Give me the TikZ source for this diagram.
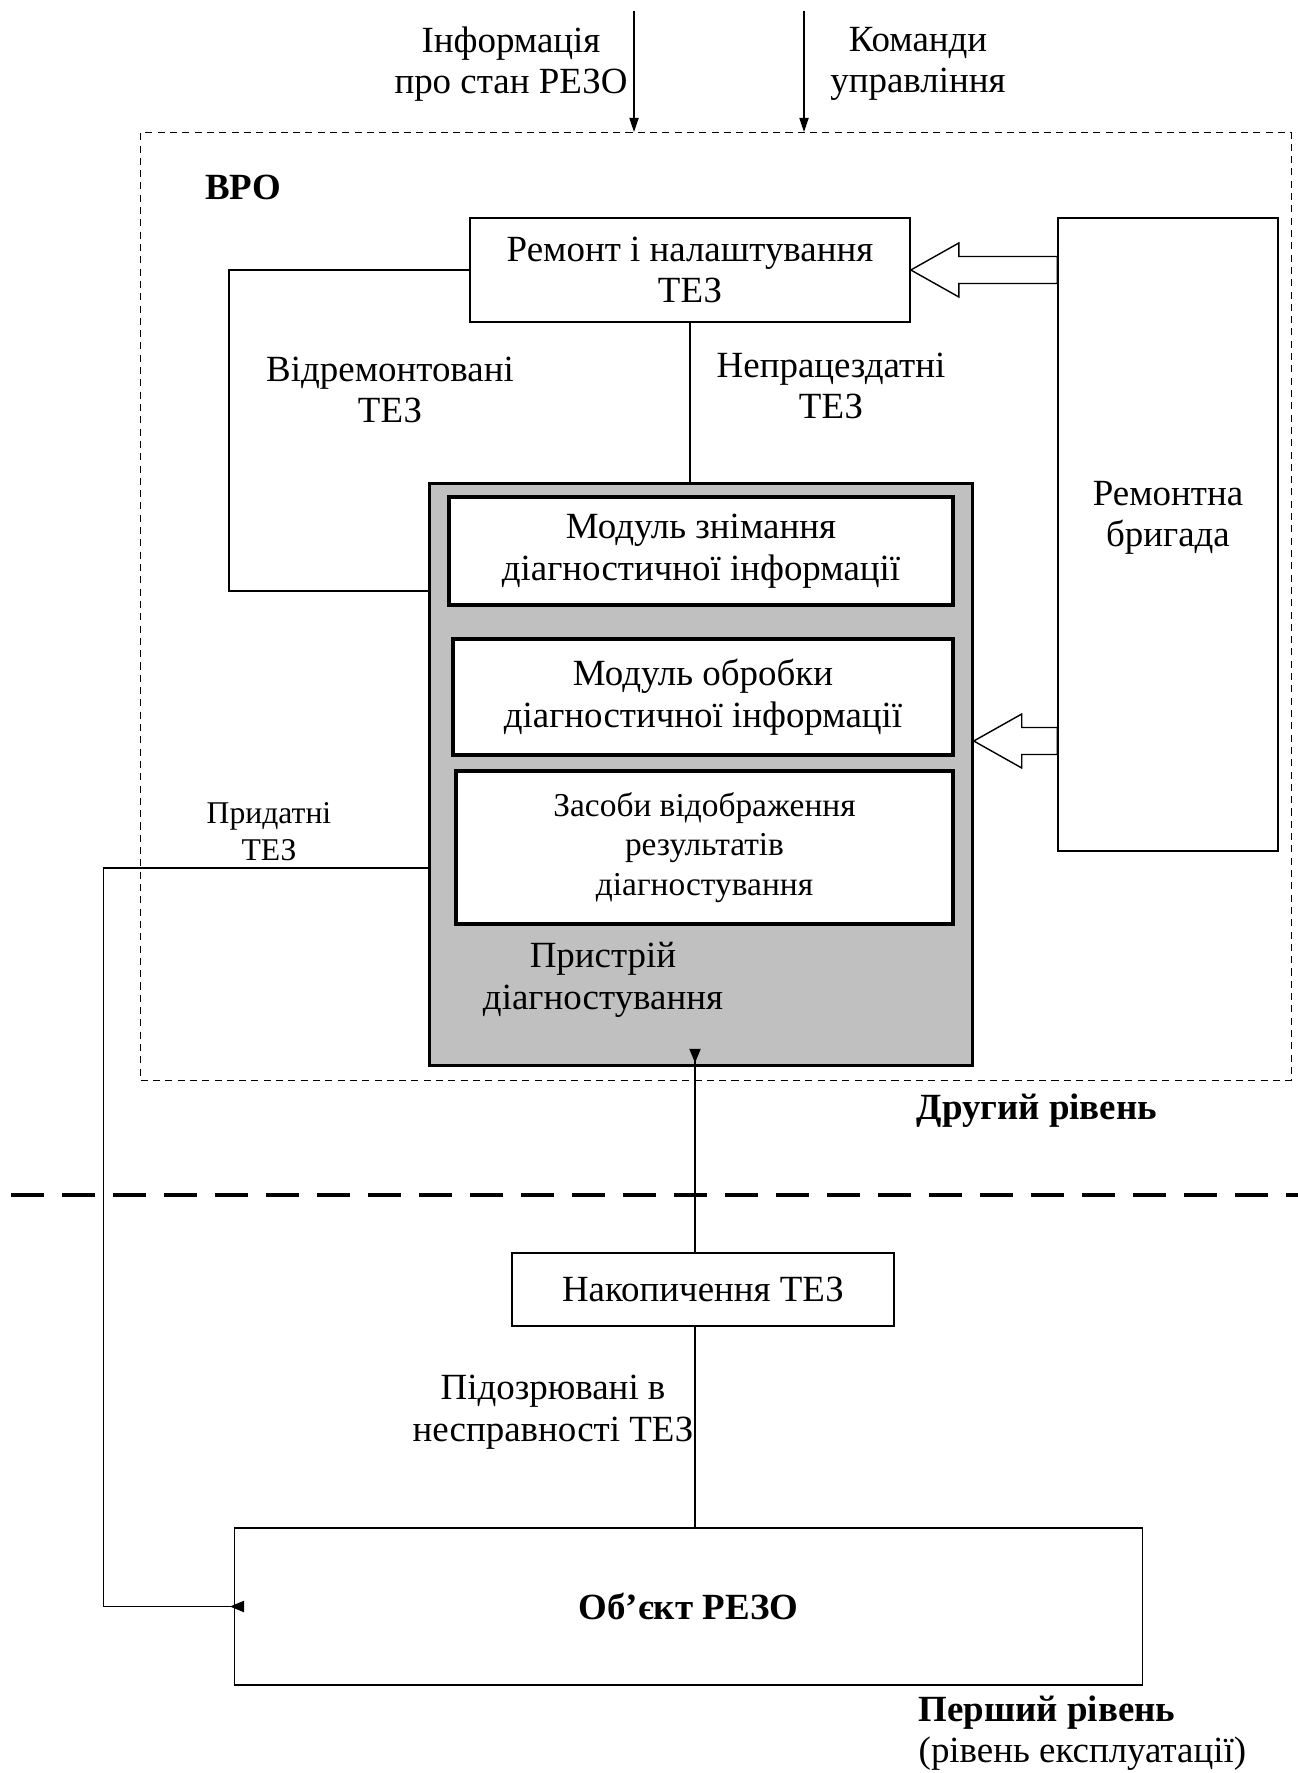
\documentclass[tikz,border=0pt]{standalone}
\usepackage{fontspec}
\setmainfont{Liberation Serif}
\usepackage{tikz}
\usetikzlibrary{positioning,arrows.meta,calc}
\definecolor{devgray}{RGB}{192,192,192}

\begin{document}
\begin{tikzpicture}[x=0.01cm, y=-0.01cm,
    every node/.style={font=\fontsize{10.5}{11.8}\selectfont},
    box/.style={draw, thin, inner sep=0pt, align=center},
    module/.style={draw, line width=1.1pt, fill=white, inner sep=0pt, align=center},
    device/.style={draw, line width=0.9pt, fill=devgray, inner sep=0pt},
    vro/.style={draw, thin, dash pattern=on 2pt off 1.5pt, inner sep=0pt},
    lbl/.style={align=center, inner sep=0pt},
    head/.style={font=\fontsize{10.5}{11.8}\selectfont\bfseries, inner sep=0pt},
    smalltext/.style={font=\fontsize{9.5}{11.2}\selectfont},
    feed/.style={-{Triangle[length=4pt,width=2.6pt]}},
    revtip/.style={-{Triangle[reversed,length=4pt,width=3.2pt]}},
    hollow/.style={thin, line join=miter},
    level/.style={line width=1pt, dash pattern=on 9.5pt off 5pt}]

    \useasboundingbox (0,0) rectangle (1298,1773);

    % second level frame
    \node[vro, minimum width=11.5cm, minimum height=9.47cm] (vro) at (716,606.5) {};
    \node[head] (vroname) at (243,187) {ВРО};

    % incoming information and commands
    \coordinate (in1) at (634,11);
    \coordinate (in2) at (804,11);
    \draw[feed] (in1) -- (in1 |- vro.north);
    \draw[feed] (in2) -- (in2 |- vro.north);
    \node[lbl] (infotxt) at (511,64) {Інформація\\про стан РЕЗО};
    \node[lbl] (cmdtxt) at (918,64) {Команди\\управління};

    % repair and repair team
    \node[box, minimum width=4.4cm, minimum height=1.04cm] (rem) at (690,270) {Ремонт і налаштування\\ТЕЗ};
    \node[box, minimum width=2.2cm, minimum height=6.33cm] (brig) at (1168,534.5) {Ремонтна\\бригада\\\mbox{}};

    % diagnostic device
    \node[device, minimum width=5.42cm, minimum height=5.81cm] (dev) at (701,774.5) {};
    \node[module, minimum width=5.04cm, minimum height=1.08cm] (m1) at (701,551) {Модуль знімання\\діагностичної інформації};
    \node[module, minimum width=5.0cm, minimum height=1.16cm] (m2) at (703,697) {Модуль обробки\\діагностичної інформації};
    \node[module, smalltext, minimum width=4.97cm, minimum height=1.53cm] (m3) at (704.5,847.5) {Засоби відображення\\результатів\\діагностування};
    \node[lbl] (devname) at (603,980) {Пристрій\\діагностування};

    % flows of boards
    \node[lbl] (repaired) at (390,390) {Відремонтовані\\ТЕЗ};
    \node[lbl] (faulty) at (831,386) {Непрацездатні\\ТЕЗ};
    \node[lbl, font=\fontsize{9}{10.5}\selectfont] (fit) at (269,832) {Придатні\\ТЕЗ};
    \draw (rem.west) -- ++(-240,0) |- ($(dev.west)+(0,-183.5)$);
    \draw (rem.south) -- (rem.south |- dev.north);

    % help of the repair team
    \draw[hollow] (rem.east) -- ++(48,-27) -- ++(0,13.5) -- ($(rem.east -| brig.west)+(0,-13.5)$)
        -- ++(0,27) -- ($(rem.east)+(48,13.5)$) -- ++(0,13.5) -- cycle;
    \coordinate (a2) at ($(dev.east)+(0,-33.5)$);
    \draw[hollow] (a2) -- ++(48,-27) -- ++(0,13.5) -- ($(a2 -| brig.west)+(0,-13.5)$)
        -- ++(0,27) -- ($(a2)+(48,13.5)$) -- ++(0,13.5) -- cycle;

    \node[head, anchor=west] (lvl2) at (916,1111) {Другий рівень};

    % border between levels
    \draw[level] (11,1195) -- (1298,1195);

    % first level
    \coordinate (ax) at (695,0);
    \node[box, minimum width=3.82cm, minimum height=0.73cm] (nak) at (703,1289.5) {Накопичення ТЕЗ};
    \node[lbl] (suspect) at (553,1412) {Підозрювані в\\несправності ТЕЗ};
    \node[box, minimum width=9.07cm, minimum height=1.57cm, font=\fontsize{10.5}{11.8}\selectfont\bfseries] (obj) at (688.5,1606.5) {Об’єкт РЕЗО};
    \draw[revtip] (ax |- nak.north) -- ($(ax |- dev.south)+(0,-18)$);
    \draw (ax |- nak.south) -- (ax |- obj.north);
    \draw[revtip] ($(dev.west)+(0,93.5)$) -- ++(-325,0) |- ($(obj.west)+(10,0)$);

    \node[head, anchor=west] (lvl1) at (918,1713) {Перший рівень};
    \node[lbl, anchor=west] (lvl1sub) at (918,1754) {(рівень експлуатації)};
\end{tikzpicture}
\end{document}
